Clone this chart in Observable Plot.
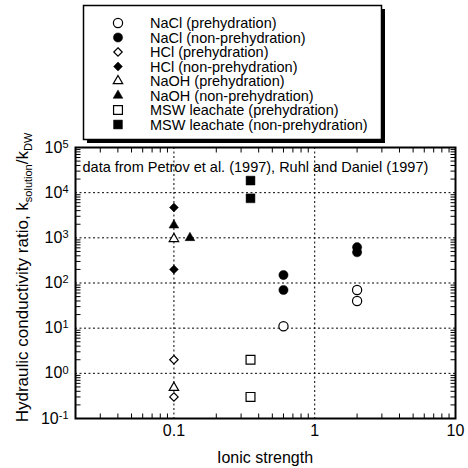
<!DOCTYPE html>
<html><head><meta charset="utf-8">
<script src="https://cdn.jsdelivr.net/npm/d3@7"></script>
<script src="https://cdn.jsdelivr.net/npm/@observablehq/plot@0.6"></script>
<style>html,body{margin:0;padding:0;background:#fff}</style>
</head><body>
<script>
// ---- data ----
const naclPreX = [0.6, 2, 2],        naclPreY = [11, 70, 40];
const naclNonX = [0.6, 0.6, 2, 2],   naclNonY = [150, 70, 620, 480];
const hclPreX  = [0.1, 0.1],         hclPreY  = [2, 0.3];
const hclNonX  = [0.1, 0.1],         hclNonY  = [4700, 200];
const naohPreX = [0.1, 0.1],         naohPreY = [950, 0.48];
const naohNonX = [0.1, 0.13],        naohNonY = [1900, 1000];
const mswPreX  = [0.35, 0.35],       mswPreY  = [2, 0.3];
const mswNonX  = [0.35, 0.35],       mswNonY  = [18500, 7500];

const legendLabels = [
  "NaCl (prehydration)", "NaCl (non-prehydration)",
  "HCl (prehydration)", "HCl (non-prehydration)",
  "NaOH (prehydration)", "NaOH (non-prehydration)",
  "MSW leachate (prehydration)", "MSW leachate (non-prehydration)"
];
const xTicks = [0.1, 1, 10];
const yTicks = [0.1, 1, 10, 100, 1000, 10000, 100000];
const xGrid = [0.1, 1];
const yGrid = [1, 10, 100, 1000, 10000];
const xLabel = "Ionic strength";
const noteText = "data from Petrov et al. (1997), Ruhl and Daniel (1997)";

// minor ticks
const xMinor = [];
for (const d of [0.01, 0.1, 1]) for (let k = 2; k <= 9; k++) { const v = d * k; if (v > 0.02 && v < 10) xMinor.push(v); }
const yMinor = [];
for (const d of [0.1, 1, 10, 100, 1000, 10000]) for (let k = 2; k <= 9; k++) yMinor.push(d * k);

// series styling
const zipXY = (xs, ys) => xs.map((x, i) => ({x, y: ys[i]}));
const series = [
  {data: zipXY(naclPreX, naclPreY), symbol: d3.symbolCircle,   r: 4.6, filled: false},
  {data: zipXY(naclNonX, naclNonY), symbol: d3.symbolCircle,   r: 4.6, filled: true},
  {data: zipXY(hclPreX,  hclPreY),  symbol: d3.symbolDiamond2, r: 3.8, filled: false},
  {data: zipXY(hclNonX,  hclNonY),  symbol: d3.symbolDiamond2, r: 4.0, filled: true},
  {data: zipXY(naohPreX, naohPreY), symbol: d3.symbolTriangle, r: 3.5, filled: false},
  {data: zipXY(naohNonX, naohNonY), symbol: d3.symbolTriangle, r: 3.6, filled: true},
  {data: zipXY(mswPreX,  mswPreY),  symbol: d3.symbolSquare,   r: 5.0, filled: false},
  {data: zipXY(mswNonX,  mswNonY),  symbol: d3.symbolSquare,   r: 5.0, filled: true}
];

const W = 468, H = 468, mL = 75, mR = 13, mT = 147, mB = 50;
const innerW = W - mL - mR, innerH = H - mT - mB;
const FONT = "'Liberation Sans', Arial, Helvetica, sans-serif";

// tick-shaped symbols (inward-pointing minor ticks)
const TL = 5;
const tickUp    = {draw(c) { c.moveTo(0, 0); c.lineTo(0, -TL); }};
const tickDown  = {draw(c) { c.moveTo(0, 0); c.lineTo(0, TL); }};
const tickRight = {draw(c) { c.moveTo(0, 0); c.lineTo(TL, 0); }};
const tickLeft  = {draw(c) { c.moveTo(0, 0); c.lineTo(-TL, 0); }};
const tickStyle = {r: 3, fill: "none", stroke: "black", strokeWidth: 1};

const plot = Plot.plot({
  width: W, height: H,
  marginLeft: mL, marginRight: mR, marginTop: mT, marginBottom: mB,
  style: {fontFamily: FONT, fontSize: "16px", background: "white", color: "black"},
  x: {type: "log", domain: [0.02, 10]},
  y: {type: "log", domain: [0.1, 1e5]},
  marks: [
    Plot.ruleX(xGrid, {x: d => d, stroke: "black", strokeWidth: 1, strokeDasharray: "2,2.5"}),
    Plot.ruleY(yGrid, {y: d => d, stroke: "black", strokeWidth: 1, strokeDasharray: "2,2.5"}),
    Plot.dot(xMinor, {x: d => d, frameAnchor: "bottom", symbol: tickUp, ...tickStyle}),
    Plot.dot(xMinor, {x: d => d, frameAnchor: "top", symbol: tickDown, ...tickStyle}),
    Plot.dot(yMinor, {y: d => d, frameAnchor: "left", symbol: tickRight, ...tickStyle}),
    Plot.dot(yMinor, {y: d => d, frameAnchor: "right", symbol: tickLeft, ...tickStyle}),
    Plot.text([noteText], {frameAnchor: "top-left", dx: 7, dy: 14, text: d => d,
      textAnchor: "start", lineAnchor: "top", fontSize: 14.5}),
    ...series.map(s => Plot.dot(s.data, {
      x: "x", y: "y", symbol: s.symbol, r: s.r,
      fill: s.filled ? "black" : "white", stroke: "black", strokeWidth: s.filled ? 0.5 : 1.2
    })),
    Plot.frame({stroke: "black", strokeWidth: 2}),
    Plot.axisX(xTicks, {anchor: "bottom", tickSize: 0, tickPadding: 6, fontSize: 16,
      tickFormat: d => String(d), label: null}),
    Plot.axisY(yTicks, {anchor: "left", tickSize: 0, tickPadding: 7, fontSize: 16,
      tickFormat: d => "10^" + Math.round(Math.log10(d)), label: null})
  ]
});

const svg = d3.select(plot);

// superscript exponents in y tick labels
svg.selectAll('g[aria-label="y-axis tick label"] text').each(function() {
  const t = d3.select(this);
  const parts = t.text().split("^");
  t.text(parts[0]);
  t.append("tspan").attr("dy", "-0.45em").attr("font-size", 11).text(parts[1]);
});

// x axis label
svg.append("text")
  .attr("x", mL + innerW / 2).attr("y", 463)
  .attr("text-anchor", "middle").attr("font-size", 16).attr("font-family", FONT)
  .attr("fill", "black").text(xLabel);

// y axis label with subscripts
const yl = svg.append("text")
  .attr("transform", `translate(28,${mT + innerH / 2 - 5}) rotate(-90)`)
  .attr("text-anchor", "middle").attr("font-size", 17).attr("font-family", FONT).attr("fill", "black");
yl.append("tspan").text("Hydraulic conductivity ratio, k");
yl.append("tspan").attr("font-size", 11).attr("dy", 4).text("solution");
yl.append("tspan").attr("dy", -4).text("/k");
yl.append("tspan").attr("font-size", 11).attr("dy", 4).text("DW");

// legend box
const lg = svg.append("g").attr("font-family", FONT).attr("text-anchor", "start");
lg.append("rect").attr("x", 87).attr("y", 9).attr("width", 298).attr("height", 134).attr("fill", "black");
lg.append("rect").attr("x", 83.5).attr("y", 5.5).attr("width", 298).attr("height", 134)
  .attr("fill", "white").attr("stroke", "black").attr("stroke-width", 1.5);
legendLabels.forEach((lab, i) => {
  const s = series[i];
  const cy = 23 + i * 14.5;
  lg.append("path")
    .attr("transform", `translate(118,${cy})`)
    .attr("d", d3.symbol(s.symbol, s.r * s.r * Math.PI)())
    .attr("fill", s.filled ? "black" : "white").attr("stroke", "black")
    .attr("stroke-width", s.filled ? 0.5 : 1.2);
  lg.append("text").attr("x", 150).attr("y", cy + 5).attr("font-size", 14.5)
    .attr("text-anchor", "start").attr("fill", "black").text(lab);
});

document.body.append(plot);
</script>
</body></html>
